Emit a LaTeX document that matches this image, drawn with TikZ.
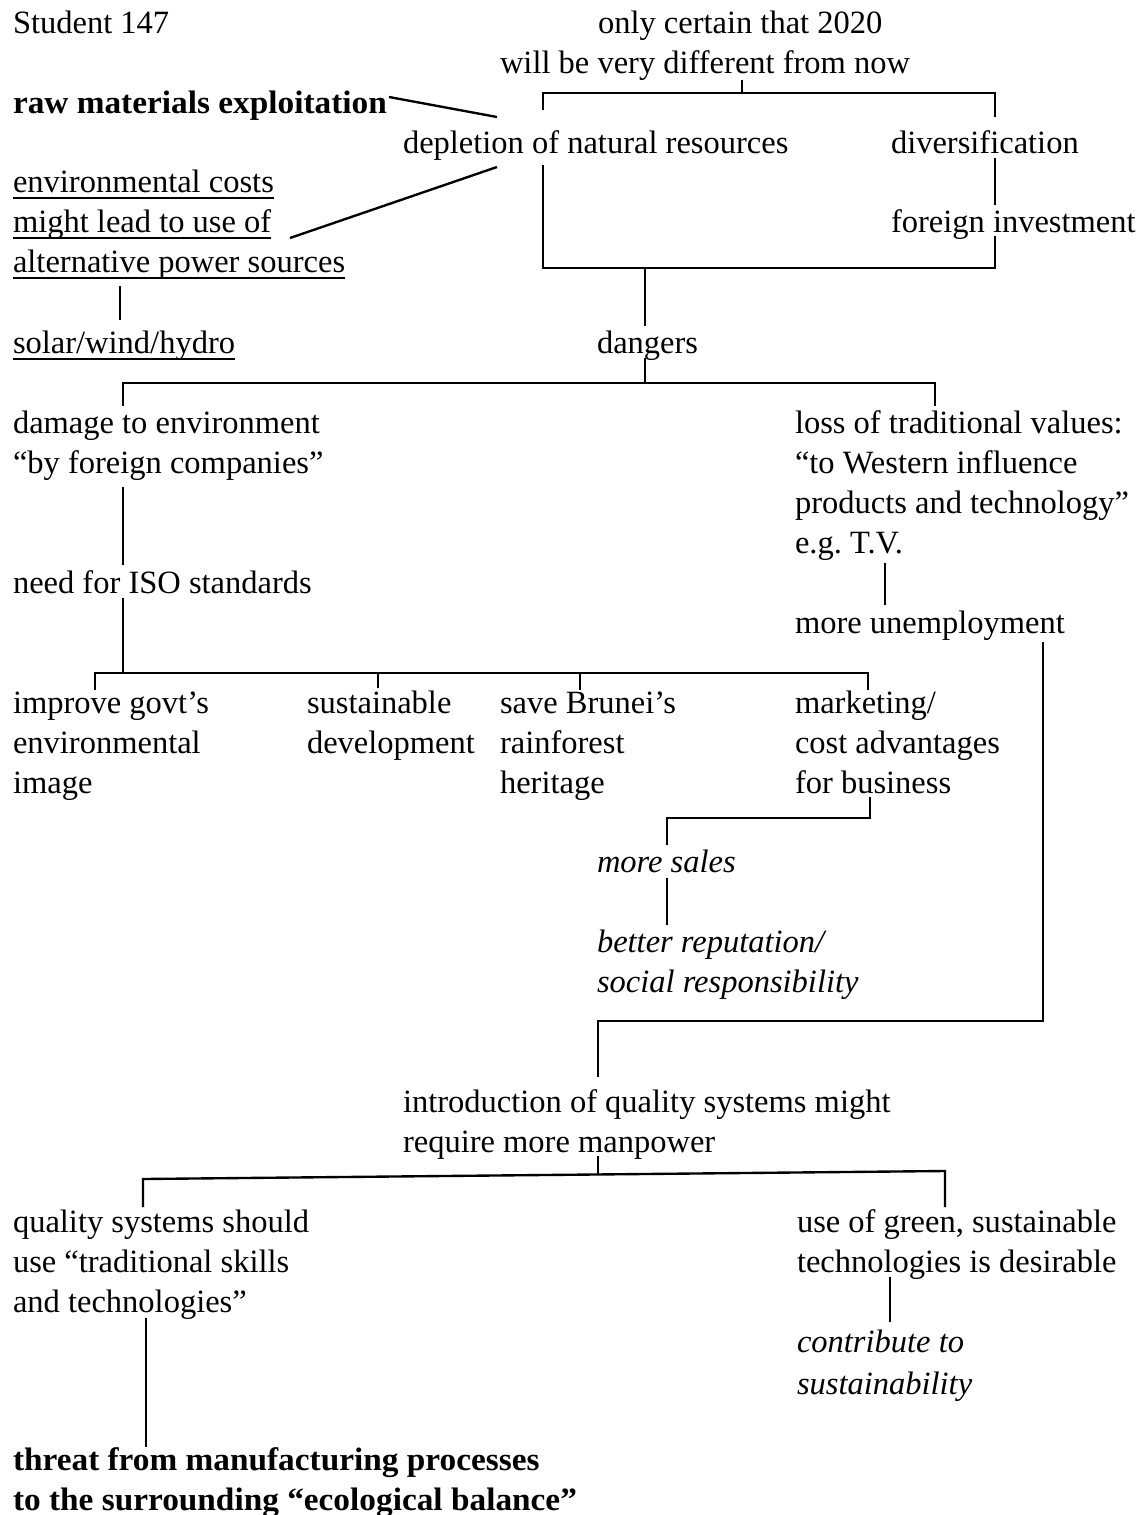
\documentclass[tikz,border=0pt]{standalone}
\usepackage{fontspec}
\setmainfont{Liberation Serif}
\newfontfamily\widebold[FakeStretch=1.025]{Liberation Serif}
% underline drawn at a fixed depth below the baseline
\newsavebox{\ulbox}
\newcommand{\ulin}[1]{\sbox{\ulbox}{#1}\rlap{\rule[-4pt]{\wd\ulbox}{1.1pt}}\usebox{\ulbox}}
\begin{document}
\begin{tikzpicture}[x=0.02cm,y=-0.02cm,
  txt/.style={anchor=base west,inner sep=0pt,outer sep=0pt,align=left,
              font=\fontsize{18.5}{22.76}\selectfont},
  boldtxt/.style={txt,font=\fontsize{18.5}{22.76}\selectfont\widebold\bfseries},
  ittxt/.style={txt,font=\fontsize{18.5}{22.76}\selectfont\itshape},
  link/.style={line width=1.35pt}]
\fill[white] (0,0) rectangle (1137,1515);
\useasboundingbox (0,0) rectangle (1137,1515);

% ---------- text (positions give the baseline of the last line) ----------
\node[txt] (stud)   at (13,33)  {Student 147};
\node[txt] (top)    at (500,73) {\hspace*{55.8pt}only certain that 2020\\will be very different from now};
\node[boldtxt] (raw) at (13,113) {raw materials exploitation};
\node[txt] (depl)   at (403,153) {depletion of natural resources};
\node[txt] (divers) at (891,153) {diversification};
\node[txt] (envc)   at (13,272) {\ulin{environmental costs}\\\ulin{might lead to use of}\\\ulin{alternative power sources}};
\node[txt] (fdi)    at (891,232) {foreign investment};
\node[txt] (solar)  at (13,353) {\ulin{solar/wind/hydro}};
\node[txt] (dang)   at (597,353) {dangers};
\node[txt] (damage) at (13,473) {damage to environment\\“by foreign companies”};
\node[txt] (loss)   at (795,553) {loss of traditional values:\\“to Western influence\\products and technology”\\e.g.\ T.V.};
\node[txt] (iso)    at (13,593) {need for ISO standards};
\node[txt] (unemp)  at (795,633) {more unemployment};
\node[txt] (govt)   at (13,793) {improve govt’s\\environmental\\image};
\node[txt] (sustd)  at (307,753) {sustainable\\development};
\node[txt] (brunei) at (500,793) {save Brunei’s\\rainforest\\heritage};
\node[txt] (mkt)    at (795,793) {marketing/\\cost advantages\\for business};
\node[ittxt] (sales) at (597,872) {more sales};
\node[ittxt] (repu)  at (597,992) {better reputation/\\social responsibility};
\node[txt] (intro)  at (403,1152) {introduction of quality systems might\\require more manpower};
\node[txt] (qsys)   at (13,1312) {quality systems should\\use “traditional skills\\and technologies”};
\node[txt] (green)  at (797,1272) {use of green, sustainable\\technologies is desirable};
\node[ittxt,font=\fontsize{18.5}{23.5}\selectfont\itshape] (contrib) at (797,1394) {contribute to\\sustainability};
\node[boldtxt] (threat) at (13,1510) {threat from manufacturing processes\\to the surrounding “ecological balance”};

% ---------- connectors ----------
% 2020 bracket
\coordinate (a1) at (742,93);
\coordinate (a2) at (543,93);
\coordinate (a3) at (995,93);
\coordinate (a4) at (543,110);
\coordinate (a5) at (995,117);
\draw[link] (top.south -| a1) -- (a1);
\draw[link] (a4) -- (a2) -- (a3) -- (a5);
% side links into depletion
\coordinate (b0) at (389,97);
\coordinate (b1) at (497,117);
\draw[link] (b0) -- (b1);
\coordinate (c0) at (290,238);
\coordinate (c1) at (497,167);
\draw[link] (c0) -- (c1);
% enclosing bracket
\coordinate (d1) at (543,165);
\coordinate (d2) at (543,268);
\coordinate (d3) at (995,268);
\coordinate (d4) at (995,236);
\draw[link] (d1) -- (d2) -- (d3) -- (d4);
\coordinate (e1) at (995,158);
\coordinate (e2) at (995,205);
\draw[link] (e1) -- (e2);
% down to dangers
\coordinate (f1) at (645,268);
\coordinate (f2) at (645,326);
\draw[link] (f1) -- (f2);
% power sources to solar
\coordinate (g1) at (120,286);
\coordinate (g2) at (120,320);
\draw[link] (g1) -- (g2);
% dangers bracket
\coordinate (h0) at (645,358);
\coordinate (h1) at (645,383);
\coordinate (h2) at (123,383);
\coordinate (h3) at (935,383);
\coordinate (h4) at (123,406);
\coordinate (h5) at (935,406);
\draw[link] (h0) -- (h1);
\draw[link] (h4) -- (h2) -- (h3) -- (h5);
% damage to ISO
\coordinate (i1) at (123,487);
\coordinate (i2) at (123,565);
\draw[link] (i1) -- (i2);
% ISO bracket
\coordinate (k0) at (123,598);
\coordinate (k1) at (123,673);
\coordinate (k2) at (95,673);
\coordinate (k3) at (868,673);
\coordinate (k4) at (95,690);
\coordinate (k5) at (868,690);
\coordinate (k6) at (378,673);
\coordinate (k7) at (378,688);
\coordinate (k8) at (580,673);
\coordinate (k9) at (580,690);
\draw[link] (k0) -- (k1);
\draw[link] (k4) -- (k2) -- (k3) -- (k5);
\draw[link] (k6) -- (k7);
\draw[link] (k8) -- (k9);
% T.V. to unemployment
\coordinate (m1) at (885,563);
\coordinate (m2) at (885,605);
\draw[link] (m1) -- (m2);
% business to sales
\coordinate (n1) at (870,797);
\coordinate (n2) at (870,818);
\coordinate (n3) at (667,818);
\coordinate (n4) at (667,845);
\draw[link] (n1) -- (n2) -- (n3) -- (n4);
% sales to reputation
\coordinate (p1) at (667,878);
\coordinate (p2) at (667,925);
\draw[link] (p1) -- (p2);
% unemployment to introduction
\coordinate (q1) at (1043,642);
\coordinate (q2) at (1043,1021);
\coordinate (q3) at (598,1021);
\coordinate (q4) at (598,1077);
\draw[link] (q1) -- (q2) -- (q3) -- (q4);
% introduction bracket
\coordinate (r0) at (598,1156);
\coordinate (r1) at (598,1175);
\coordinate (r2) at (143,1179);
\coordinate (r3) at (945,1171);
\coordinate (r4) at (143,1207);
\coordinate (r5) at (945,1207);
\draw[link] (r0) -- (r1);
\draw[link] (r4) -- (r2) -- (r3) -- (r5);
% technologies to threat
\coordinate (s1) at (146,1318);
\coordinate (s2) at (146,1447);
\draw[link] (s1) -- (s2);
% green to contribute
\coordinate (t1) at (890,1277);
\coordinate (t2) at (890,1322);
\draw[link] (t1) -- (t2);
\end{tikzpicture}
\end{document}
